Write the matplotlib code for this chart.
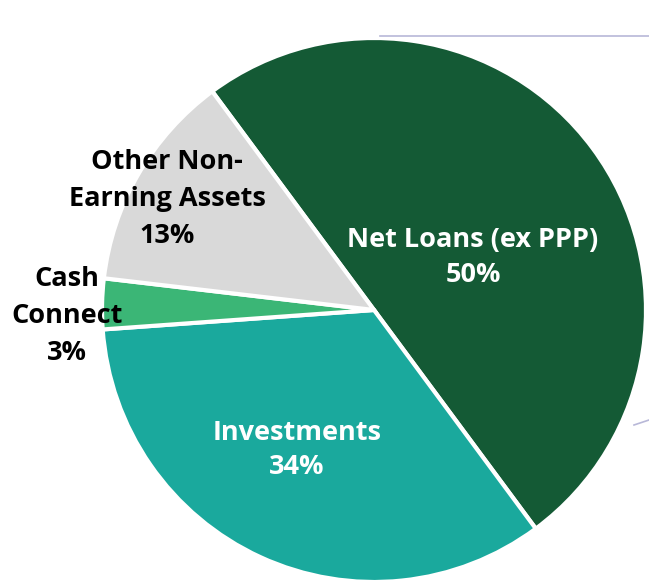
import matplotlib.pyplot as plt

# slice data (clockwise from the top-left boundary)
labels = ['Net Loans (ex PPP)', 'Investments', 'Cash\nConnect', 'Other Non-\nEarning Assets']
shares = [50, 34, 3, 13]
colors = ['#145A35', '#1AA99D', '#3BB676', '#D9D9D9']

plt.rcParams['font.family'] = ['Open Sans', 'DejaVu Sans']

fig = plt.figure(figsize=(6.49, 5.84), dpi=100)
ax = fig.add_axes([0, 0, 1, 1])
ax.set_xlim(0, 649)
ax.set_ylim(0, 584)
ax.set_aspect('equal')
ax.axis('off')

# slide decoration lines
ax.plot([380, 649], [548.5, 548.5], color='#B8B8D8', lw=1.2)
ax.plot([634, 649], [159, 164], color='#B8B8D8', lw=1.2)

ax.pie(shares, colors=colors, startangle=126.5, counterclock=False,
       center=(374, 274), radius=272,
       wedgeprops=dict(edgecolor='white', linewidth=3))

ax.set_xlim(0, 649)
ax.set_ylim(0, 584)

fs = 19.5
ls = 1.45
ax.text(473, 326, f'{labels[0]}\n{shares[0]}%', color='white', ha='center', va='center',
        fontsize=fs, fontweight='bold', linespacing=ls)
ax.text(297, 134, f'{labels[1]}\n{shares[1]}%', color='white', ha='center', va='center',
        fontsize=fs, fontweight='bold', linespacing=ls)
ax.text(67, 268, f'{labels[2]}\n{shares[2]}%', color='black', ha='center', va='center',
        fontsize=fs, fontweight='bold', linespacing=1.55)
ax.text(167, 385, f'{labels[3]}\n{shares[3]}%', color='black', ha='center', va='center',
        fontsize=fs, fontweight='bold', linespacing=1.55)

fig.savefig('out.png', dpi=100)
